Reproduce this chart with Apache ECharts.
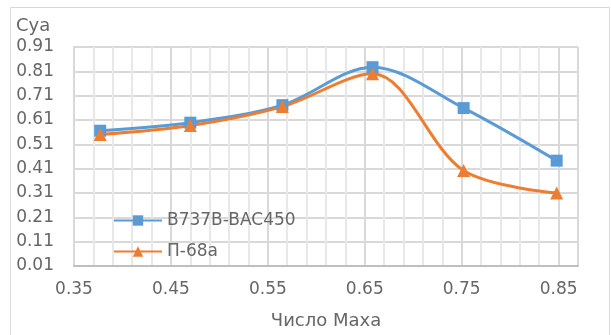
<!DOCTYPE html>
<html>
<head>
<meta charset="utf-8">
<script src="https://cdn.jsdelivr.net/npm/echarts@6/dist/echarts.min.js"></script>
<style>
html,body{margin:0;padding:0;background:#fff;}
#c{width:611px;height:335px;}
</style>
</head>
<body>
<div id="c"></div>
<script>
const machNumbers = [0.377, 0.470, 0.565, 0.658, 0.752, 0.848];
const seriesNames = ['B737B-BAC450', 'П-68а'];
const cyaB737 = [0.566, 0.599, 0.671, 0.827, 0.659, 0.443];
const cyaP68 = [0.550, 0.587, 0.665, 0.800, 0.402, 0.310];
const yTitle = 'Cya';
const xTitle = 'Число Маха';

const FONT = 'DejaVu Sans';
const TXT = '#666666';

const chart = echarts.init(document.getElementById('c'), null, {renderer: 'canvas'});
chart.setOption({
  animation: false,
  backgroundColor: '#fff',
  textStyle: {fontFamily: FONT},
  graphic: [
    {type: 'rect', shape: {x: 10.5, y: 7.5, width: 599, height: 340}, style: {fill: 'none', stroke: '#d9d9d9', lineWidth: 1}, silent: true},
    {type: 'text', left: 16, top: 17, style: {text: yTitle, font: '18px "DejaVu Sans"', fill: TXT}}
  ],
  grid: {left: 74, right: 33, top: 47, bottom: 65},
  legend: {
    orient: 'vertical', left: 108, top: 207,
    itemWidth: 48, itemHeight: 13, itemGap: 14,
    textStyle: {fontFamily: FONT, fontSize: 17, color: TXT},
    data: seriesNames
  },
  xAxis: [
    {
      type: 'value', min: 0.35, max: 0.87, interval: 0.1, z: 2,
      axisLine: {show: true, lineStyle: {color: '#bfbfbf', width: 2}},
      axisTick: {show: false},
      axisLabel: {color: TXT, fontSize: 17, fontFamily: FONT, margin: 15, showMaxLabel: false,
        formatter: v => v.toFixed(2)},
      splitLine: {show: true, lineStyle: {color: '#d9d9d9', width: 2}},
      name: xTitle, nameLocation: 'middle', nameGap: 46,
      nameTextStyle: {color: TXT, fontSize: 18, fontFamily: FONT}
    },
    {
      type: 'value', min: 0.35, max: 0.87, interval: 0.02, position: 'bottom', z: 0,
      axisLine: {show: false}, axisTick: {show: false}, axisLabel: {show: false},
      splitLine: {show: true, lineStyle: {color: '#e8e8e8', width: 2}}
    }
  ],
  yAxis: {
    type: 'value', min: 0.01, max: 0.91, interval: 0.1,
    axisLine: {show: true, lineStyle: {color: '#d9d9d9', width: 2}},
    axisTick: {show: false},
    axisLabel: {color: TXT, fontSize: 17, fontFamily: FONT, margin: 20,
      formatter: v => v.toFixed(2)},
    splitLine: {show: true, lineStyle: {color: '#d9d9d9', width: 2}}
  },
  series: [
    {
      name: seriesNames[0], type: 'line', smooth: 0.33,
      data: machNumbers.map((x, i) => [x, cyaB737[i]]),
      symbol: 'rect', symbolSize: 12,
      lineStyle: {color: '#5b9bd5', width: 3},
      itemStyle: {color: '#5b9bd5'}
    },
    {
      name: seriesNames[1], type: 'line', smooth: 0.33,
      data: machNumbers.map((x, i) => [x, cyaP68[i]]),
      symbol: 'triangle', symbolSize: 13,
      lineStyle: {color: '#ed7d31', width: 3},
      itemStyle: {color: '#ed7d31'}
    }
  ]
});
</script>
</body>
</html>
